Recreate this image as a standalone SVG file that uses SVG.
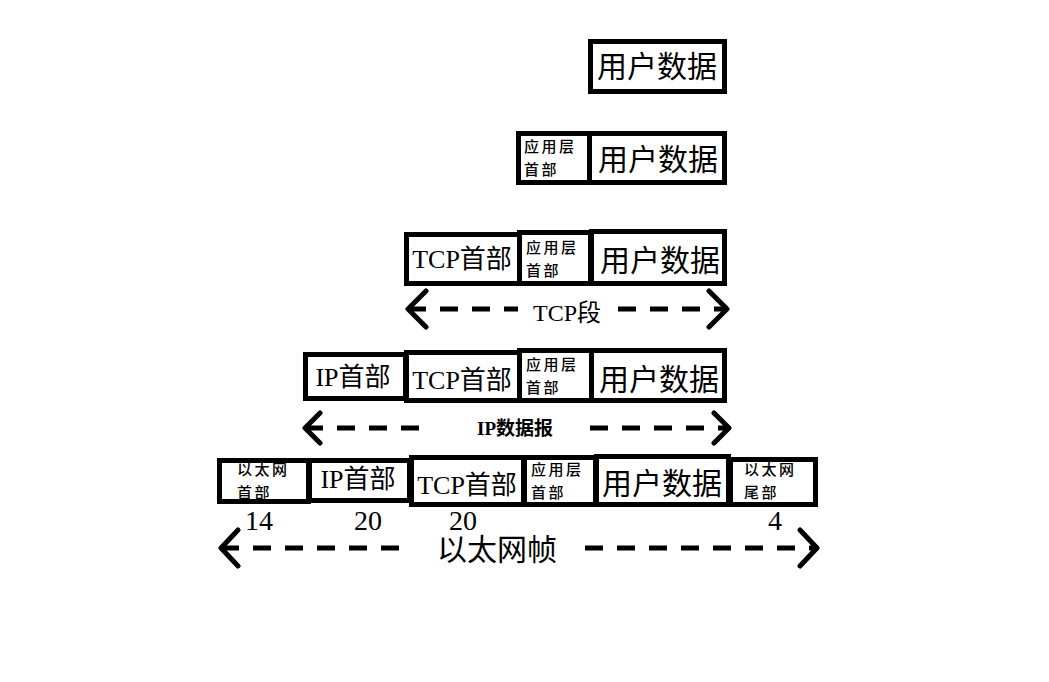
<svg xmlns="http://www.w3.org/2000/svg" width="1049" height="682" viewBox="0 0 1049 682">
<style>
.box{fill:#fff;stroke:#000;stroke-width:5}
.big{font-family:"Liberation Serif","Noto Sans CJK SC",serif;fill:#000}
.small{font-family:"Noto Sans CJK SC",sans-serif;font-size:15px;font-weight:500;letter-spacing:2.5px;fill:#000}
.dash{stroke:#000;stroke-width:5;stroke-dasharray:18 14;fill:none}
.head{stroke:#000;stroke-width:5;fill:none;stroke-linecap:round;stroke-linejoin:round}
</style>
<rect width="1049" height="682" fill="#fff"/>
<g id="row1">
<g id="r1-data"><rect class="box" x="590.5" y="41.5" width="134" height="50"/><text class="big" x="657" y="77" font-size="30" text-anchor="middle">用户数据</text></g>
</g>
<g id="row2">
<g id="r2-app"><rect class="box" x="518.5" y="133.5" width="71" height="49"/><text class="small" x="524" y="152">应用层</text><text class="small" x="524" y="175">首部</text></g>
<g id="r2-data"><rect class="box" x="589.5" y="133.5" width="135" height="49"/><text class="big" x="658" y="170" font-size="30" text-anchor="middle">用户数据</text></g>
</g>
<g id="row3">
<g id="r3-tcp"><rect class="box" x="406.5" y="234.5" width="113" height="49"/><text class="big" x="462" y="268" font-size="26" text-anchor="middle">TCP首部</text></g>
<g id="r3-app"><rect class="box" x="519.5" y="232.5" width="71" height="51"/><text class="small" x="526" y="253">应用层</text><text class="small" x="526" y="276">首部</text></g>
<g id="r3-data"><rect class="box" x="591.5" y="231.5" width="133" height="52"/><text class="big" x="660" y="271" font-size="30" text-anchor="middle">用户数据</text></g>
</g>
<g id="row4">
<g id="r4-ip"><rect class="box" x="305.5" y="354.5" width="100" height="44"/><text class="big" x="353" y="386" font-size="26" text-anchor="middle">IP首部</text></g>
<g id="r4-tcp"><rect class="box" x="406.5" y="352.5" width="113" height="48"/><text class="big" x="462" y="389" font-size="26" text-anchor="middle">TCP首部</text></g>
<g id="r4-app"><rect class="box" x="519.5" y="350.5" width="72" height="50"/><text class="small" x="526" y="370">应用层</text><text class="small" x="526" y="393">首部</text></g>
<g id="r4-data"><rect class="box" x="591.5" y="350.5" width="133" height="50"/><text class="big" x="659" y="390" font-size="30" text-anchor="middle">用户数据</text></g>
</g>
<g id="row5">
<g id="r5-eth"><rect class="box" x="219.5" y="460.5" width="89" height="41"/><text class="small" x="237" y="475">以太网</text><text class="small" x="237" y="498">首部</text></g>
<g id="r5-ip"><rect class="box" x="309.5" y="460.5" width="100" height="40"/><text class="big" x="358" y="488" font-size="26" text-anchor="middle">IP首部</text></g>
<g id="r5-tcp"><rect class="box" x="411.5" y="457.5" width="112" height="47"/><text class="big" x="467" y="494" font-size="26" text-anchor="middle">TCP首部</text></g>
<g id="r5-app"><rect class="box" x="524.5" y="457.5" width="71" height="47"/><text class="small" x="531" y="475">应用层</text><text class="small" x="531" y="498">首部</text></g>
<g id="r5-data"><rect class="box" x="596.5" y="456.5" width="132" height="48"/><text class="big" x="662" y="494" font-size="30" text-anchor="middle">用户数据</text></g>
<g id="r5-trailer"><rect class="box" x="730.5" y="459.5" width="85" height="45"/><text class="small" x="744" y="475">以太网</text><text class="small" x="744" y="498">尾部</text></g>
<g id="sizes" class="big" font-size="28" text-anchor="middle">
<text x="259" y="530">14</text><text x="368" y="530">20</text><text x="463" y="530">20</text><text x="775" y="530">4</text>
</g>
</g>
<g id="connectors">
<path class="dash" d="M408 309 H518 M618 309 H727"/>
<path class="head" d="M426 291 L408 309 L426 327 M709 291 L727 309 L709 327"/>
<text class="big" x="567" y="321" font-size="24" text-anchor="middle">TCP段</text>
<path class="dash" d="M305 428 H430 M590 428 H729"/>
<path class="head" d="M320 413 L305 428 L320 443 M714 413 L729 428 L714 443"/>
<text class="big" x="515" y="435" font-size="19" font-weight="bold" text-anchor="middle">IP数据报</text>
<path class="dash" d="M221 548 H405 M585 548 H817"/>
<path class="head" d="M238 530 L221 548 L238 566 M800 530 L817 548 L800 566"/>
<text class="big" x="497" y="560" font-size="30" text-anchor="middle">以太网帧</text>
</g>
</svg>
